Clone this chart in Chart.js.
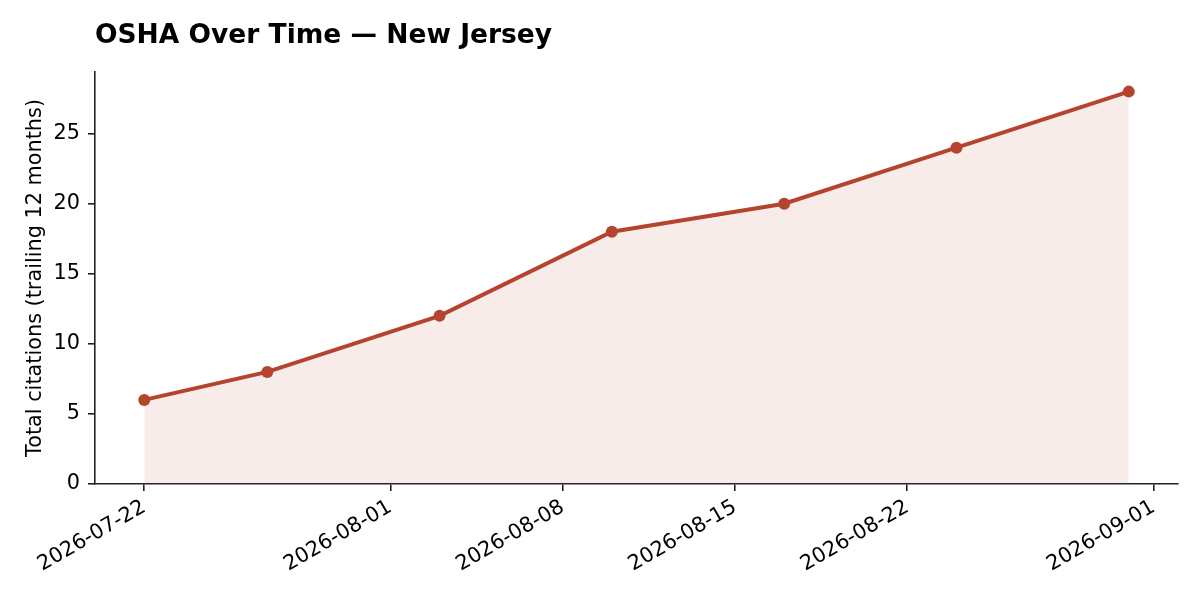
<!DOCTYPE html>
<html>
<head>
<meta charset="utf-8">
<script src="https://cdn.jsdelivr.net/npm/chart.js@4"></script>
<style>
  html, body { margin: 0; padding: 0; background: #fff; }
  #wrap { width: 1200px; height: 600px; }
</style>
</head>
<body>
<div id="wrap"><canvas id="chart" width="1200" height="600"></canvas></div>
<script>
const dates = ['2026-07-22', '2026-07-27', '2026-08-03', '2026-08-10', '2026-08-17', '2026-08-24', '2026-08-31'];
const citations = [6, 8, 12, 18, 20, 24, 28];
const tickDates = ['2026-07-22', '2026-08-01', '2026-08-08', '2026-08-15', '2026-08-22', '2026-09-01'];
const yTicks = [0, 5, 10, 15, 20, 25];

const baseDate = Date.UTC(2026, 6, 22);
const DAY = 86400000;

function toDay(s) {
    const p = s.split('-').map(Number);
    return (Date.UTC(p[0], p[1] - 1, p[2]) - baseDate) / DAY;
}

function fromDay(d) {
    return new Date(baseDate + d * DAY).toISOString().slice(0, 10);
}

const lineColor = '#b5442f';
const font = 'DejaVu Sans';

const titlePlugin = {
    id: 'leftTitle',
    afterDraw(chart) {
        const ctx = chart.ctx;
        ctx.save();
        ctx.font = 'bold 26.5px "DejaVu Sans"';
        ctx.fillStyle = '#000';
        ctx.textBaseline = 'middle';
        ctx.textAlign = 'left';
        ctx.fillText('OSHA Over Time \u2014 New Jersey', chart.chartArea.left, 36);
        ctx.restore();
    }
};

const ctx = document.getElementById('chart').getContext('2d');
new Chart(ctx, {
    type: 'line',
    data: {
        datasets: [{
            data: dates.map((d, i) => ({ x: toDay(d), y: citations[i] })),
            borderColor: lineColor,
            backgroundColor: 'rgba(181, 68, 47, 0.1)',
            borderWidth: 4,
            pointRadius: 6,
            pointBackgroundColor: lineColor,
            pointBorderWidth: 0,
            fill: 'origin',
            tension: 0
        }]
    },
    options: {
        responsive: false,
        animation: false,
        layout: { padding: { top: 72, right: 22, left: 0, bottom: 0 } },
        plugins: {
            legend: { display: false },
            tooltip: { enabled: false }
        },
        scales: {
            x: {
                type: 'linear',
                min: -2,
                max: 42,
                afterBuildTicks: axis => { axis.ticks = tickDates.map(d => ({ value: toDay(d) })); },
                afterFit: scale => { scale.height = 116; },
                ticks: {
                    callback: v => fromDay(v),
                    minRotation: 30,
                    maxRotation: 30,
                    color: '#000',
                    font: { family: font, size: 20.8 },
                    padding: 4
                },
                grid: { display: true, drawOnChartArea: false, drawTicks: true, tickLength: 7, color: '#222', lineWidth: 1.6 },
                border: { display: true, color: '#222', width: 1.6 }
            },
            y: {
                min: 0,
                max: 29.4,
                afterBuildTicks: axis => { axis.ticks = yTicks.map(v => ({ value: v })); },
                afterFit: scale => { scale.width = 95; },
                ticks: {
                    color: '#000',
                    font: { family: font, size: 20.8 },
                    padding: 8
                },
                title: {
                    display: true,
                    text: 'Total citations (trailing 12 months)',
                    color: '#000',
                    font: { family: font, size: 20.8 },
                    padding: { top: 23, bottom: 0 }
                },
                grid: { display: true, drawOnChartArea: false, drawTicks: true, tickLength: 7, color: '#222', lineWidth: 1.6 },
                border: { display: true, color: '#222', width: 1.6 }
            }
        }
    },
    plugins: [titlePlugin]
});
</script>
</body>
</html>
